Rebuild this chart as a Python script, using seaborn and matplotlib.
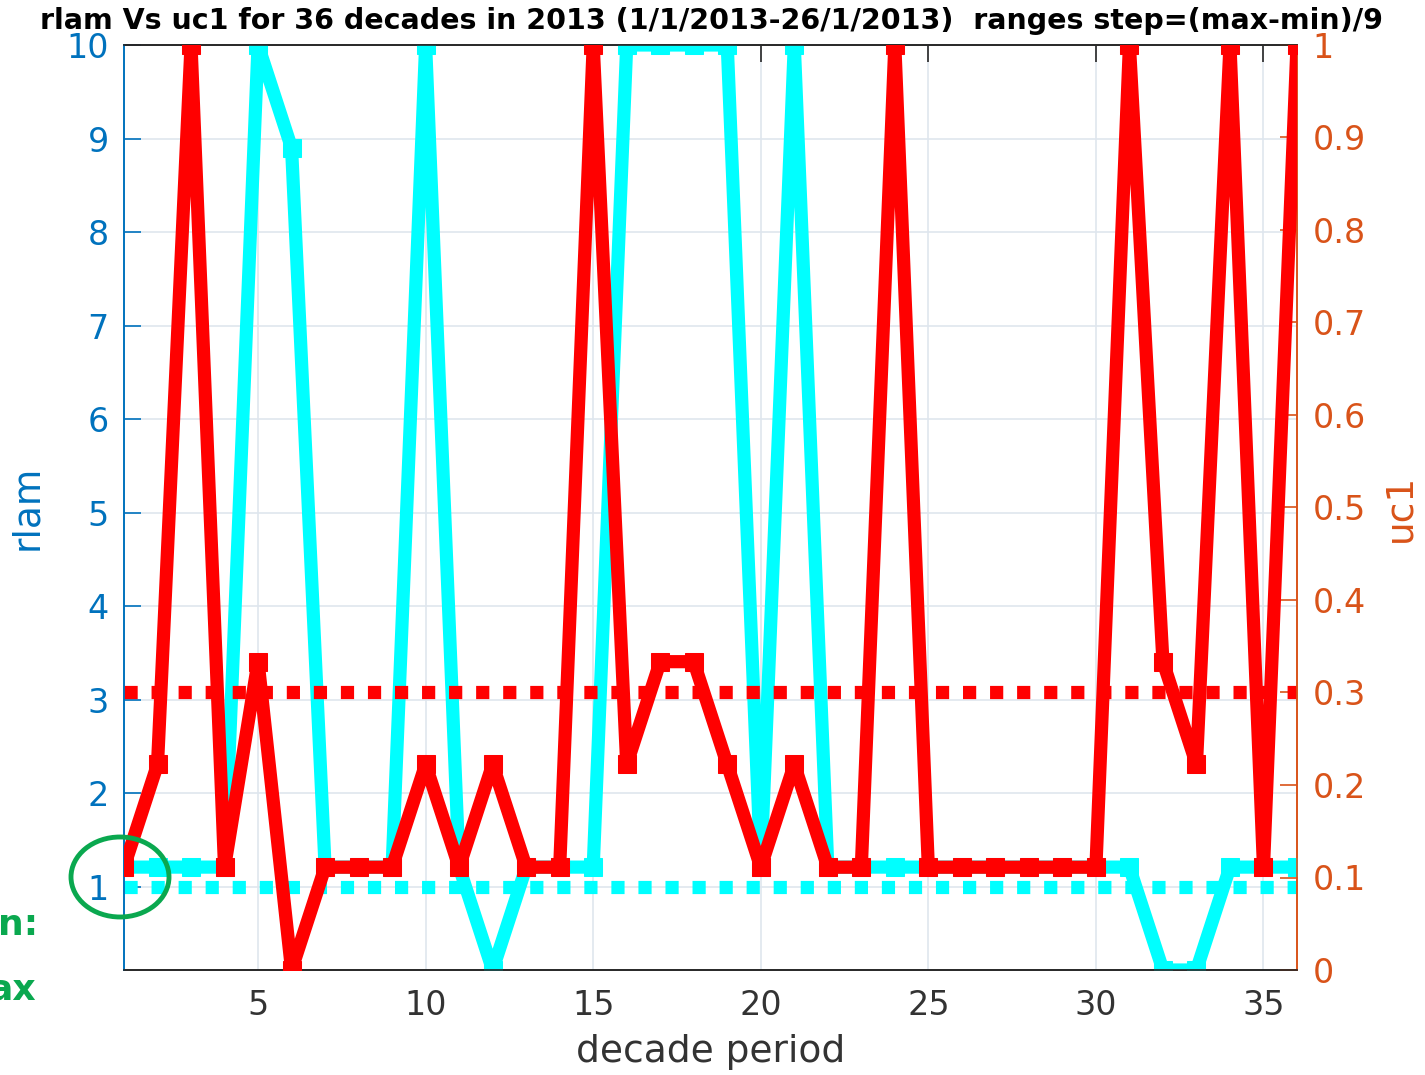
import numpy as np
import pandas as pd
import matplotlib
matplotlib.use("Agg")
import matplotlib.pyplot as plt
from matplotlib.patches import Ellipse
import seaborn as sns

# ---------------- data ----------------
decades = list(range(1, 37))
rlam = [1.21, 1.21, 1.21, 1.21, 10, 8.9, 1.21, 1.21, 1.21, 10,
        1.21, 0.11, 1.21, 1.21, 1.21, 10, 10, 10, 10, 1.21,
        10, 1.21, 1.21, 1.21, 1.21, 1.21, 1.21, 1.21, 1.21, 1.21,
        1.21, 0.11, 0.11, 1.21, 1.21, 1.21]
uc1 = [1/9, 2/9, 1, 1/9, 3/9, 0, 1/9, 1/9, 1/9, 2/9,
       1/9, 2/9, 1/9, 1/9, 1, 2/9, 3/9, 3/9, 2/9, 1/9,
       2/9, 1/9, 1/9, 1, 1/9, 1/9, 1/9, 1/9, 1/9, 1/9,
       1, 3/9, 2/9, 1, 1/9, 1]
rlam_threshold = 1.0
uc1_threshold = 0.3
x_ticks = [5, 10, 15, 20, 25, 30, 35]
rlam_ticks = [1, 2, 3, 4, 5, 6, 7, 8, 9, 10]
uc1_ticks = [0, 0.1, 0.2, 0.3, 0.4, 0.5, 0.6, 0.7, 0.8, 0.9, 1]
uc1_ticklabels = ["0", "0.1", "0.2", "0.3", "0.4", "0.5", "0.6", "0.7", "0.8", "0.9", "1"]
title = "rlam Vs uc1 for 36 decades in 2013 (1/1/2013-26/1/2013)  ranges step=(max-min)/9"

df = pd.DataFrame({"decade": decades, "rlam": rlam, "uc1": uc1})

# ---------------- style ----------------
sns.set_theme(style="white")
plt.rcParams["font.family"] = ["DejaVu Sans"]

BLUE = "#0072BD"
ORANGE = "#D95319"
CYAN = "#00FFFF"
RED = "#FF0000"
GRAY = "#262626"

fig = plt.figure(figsize=(14.25, 10.75), dpi=100)
ax = fig.add_axes([124/1425, 1 - 970/1075, (1297-124)/1425, (970-45)/1075])
ax2 = ax.twinx()

# grid
ax.set_axisbelow(True)
ax.grid(True, color="#dfe6ee", linewidth=1.2)

# threshold lines
ax.axhline(rlam_threshold, color=CYAN, linewidth=9.5, linestyle=(0, (1, 1.05)),
           dash_capstyle="butt", zorder=2)
ax2.axhline(uc1_threshold, color=RED, linewidth=9.5, linestyle=(0, (1, 1.05)),
            dash_capstyle="butt", zorder=2)

sns.lineplot(data=df, x="decade", y="rlam", ax=ax, color=CYAN, linewidth=9.5,
             marker="s", markersize=13, markeredgecolor=CYAN, zorder=3)
sns.lineplot(data=df, x="decade", y="uc1", ax=ax2, color=RED, linewidth=9.5,
             marker="s", markersize=13, markeredgecolor=RED, zorder=3)

ax.set_xlim(1, 36)
ax.set_ylim(0.11, 10)
ax2.set_ylim(0, 1)

ax.set_xticks(x_ticks)
ax.set_yticks(rlam_ticks)
ax2.set_yticks(uc1_ticks)
ax2.set_yticklabels(uc1_ticklabels)

ax.tick_params(axis="x", direction="in", length=12, width=1.2, colors=GRAY,
               labelsize=24, labelcolor="#333333", top=True, pad=14)
ax.tick_params(axis="y", direction="in", length=12, width=1.2, colors=BLUE,
               labelsize=24, labelcolor=BLUE, pad=11)
ax2.tick_params(axis="y", direction="in", length=12, width=1.2, colors=ORANGE,
                labelsize=24, labelcolor=ORANGE, pad=11)

for a in (ax, ax2):
    a.spines["top"].set_color(GRAY)
    a.spines["bottom"].set_color(GRAY)
    a.spines["left"].set_color(BLUE)
    a.spines["right"].set_color(ORANGE)
    for s in a.spines.values():
        s.set_linewidth(1.2)
ax2.grid(False)

ax.set_xlabel("decade period", fontsize=27, color="#333333", labelpad=8)
ax.set_ylabel("rlam", fontsize=27, color=BLUE, labelpad=15)
ax2.set_ylabel("uc1", fontsize=27, color=ORANGE, labelpad=12)

fig.text(712/1425, 1 - 21/1075, title, ha="center", va="center",
         fontsize=20.5, fontweight="bold", color="black")

# green annotation (slide overlay)
GREEN = "#0AA84F"
ell = Ellipse((120/1425, 1 - 877/1075), 98/1425, 80/1075, transform=fig.transFigure,
              fill=False, edgecolor=GREEN, linewidth=3.5, zorder=10)
fig.add_artist(ell)
fig.text(38/1425, 1 - 925/1075, "n:", ha="right", va="center", fontsize=26,
         fontweight="bold", color=GREEN)
fig.text(36/1425, 1 - 990/1075, "ax", ha="right", va="center", fontsize=26,
         fontweight="bold", color=GREEN)

fig.savefig("out.png", dpi=100)
